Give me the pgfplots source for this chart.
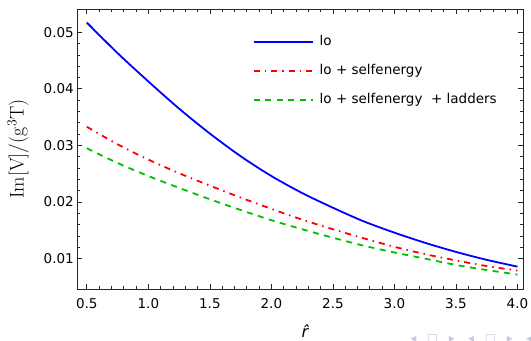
\documentclass[border=0pt]{standalone}
\usepackage[no-math]{fontspec}
\setmainfont{DejaVu Sans}
\usepackage{pgfplots}
\pgfplotsset{compat=1.18}
\definecolor{cblue}{rgb}{0,0,1}
\definecolor{cred}{rgb}{1,0,0}
\definecolor{cgreen}{rgb}{0,0.75,0}
\definecolor{navc}{rgb}{0.76,0.79,0.9}
\begin{document}
\begin{tikzpicture}
\begin{axis}[
  width=446pt, height=280pt, scale only axis,
  xmin=0.42, xmax=4.045, ymin=0.00465, ymax=0.0541,
  xtick={0.5,1.0,1.5,2.0,2.5,3.0,3.5,4.0},
  ytick={0.01,0.02,0.03,0.04,0.05},
  minor x tick num=4, minor y tick num=4,
  scaled y ticks=false, scaled x ticks=false,
  xticklabel style={/pgf/number format/fixed,/pgf/number format/fixed zerofill,/pgf/number format/precision=1, yshift=-6pt},
  yticklabel style={/pgf/number format/fixed,/pgf/number format/fixed zerofill,/pgf/number format/precision=2, inner xsep=3pt},
  /pgf/number format/assume math mode=true,
  tick label style={font=\fontsize{13.5}{15}\selectfont},
  tick align=inside,
  major tick length=5pt, minor tick length=3pt,
  every tick/.style={black!85, line width=0.7pt},
  axis line style={black!85, line width=0.9pt},
  xlabel={\itshape\^{r}},
  xlabel style={font=\fontsize{16}{18}\selectfont, at={(axis description cs:0.511,-0.15)}, anchor=center},
  ylabel={$\mathrm{Im[V]/(g^3T)}$},
  ylabel style={font=\fontsize{17.28}{20}\selectfont, scale=1.15, at={(axis description cs:-0.132,0.5)}, anchor=center, rotate=0},
  legend cell align=left,
  legend image code/.code={\draw[#1] (0pt,0pt) -- (59pt,0pt);},
  legend style={draw=none, fill=none, inner sep=0pt, at={(axis description cs:0.394,0.906)}, anchor=north west,
    font=\fontsize{13.5}{15}\selectfont, row sep=16pt, column sep=6pt,
    nodes={inner sep=0pt, text height=10pt, text depth=3pt}},
]
\addplot[cblue, line width=1.8pt, smooth] table {
x y
0.50 0.0517
0.75 0.0463
1.00 0.0413
1.25 0.0365
1.50 0.0321
1.75 0.0281
2.00 0.0246
2.25 0.0216
2.50 0.0190
2.75 0.0166
3.00 0.0146
3.25 0.0128
3.50 0.0112
3.75 0.0098
4.00 0.0086
};
\addlegendentry{lo}
\addplot[cred, line width=1.8pt, smooth, dash pattern=on 6pt off 5pt on 1.5pt off 5pt] table {
x y
0.50 0.0333
0.75 0.0302
1.00 0.0275
1.25 0.0251
1.50 0.0229
1.75 0.0208
2.00 0.0188
2.25 0.0169
2.50 0.0152
2.75 0.0136
3.00 0.0121
3.25 0.0108
3.50 0.0097
3.75 0.0087
4.00 0.0079
};
\addlegendentry{lo + selfenergy}
\addplot[cgreen, line width=1.8pt, smooth, dash pattern=on 6pt off 5.5pt] table {
x y
0.50 0.0295
0.75 0.0269
1.00 0.0246
1.25 0.0225
1.50 0.0205
1.75 0.0186
2.00 0.0168
2.25 0.0152
2.50 0.0137
2.75 0.0123
3.00 0.0111
3.25 0.0100
3.50 0.0089
3.75 0.0080
4.00 0.0072
};
\addlegendentry{lo + selfenergy \ + ladders}
\coordinate (bl) at (rel axis cs:0,0);
\coordinate (tr) at (rel axis cs:1,1);
\end{axis}
\node[anchor=west, text=navc, font=\fontsize{12}{13}\selectfont, inner sep=0pt] at ([xshift=326.5pt,yshift=-50pt]bl) {\makebox[19.3pt]{◂}\makebox[19.3pt]{□}\makebox[19.3pt]{▸}\makebox[19.3pt]{◂}\makebox[19.3pt]{□}\makebox[19.3pt]{▸}\makebox[19.3pt]{◂}};
\pgfresetboundingbox
\path[use as bounding box] ([xshift=-77pt,yshift=-52pt]bl) rectangle ([xshift=8pt,yshift=9pt]tr);
\end{tikzpicture}
\end{document}
